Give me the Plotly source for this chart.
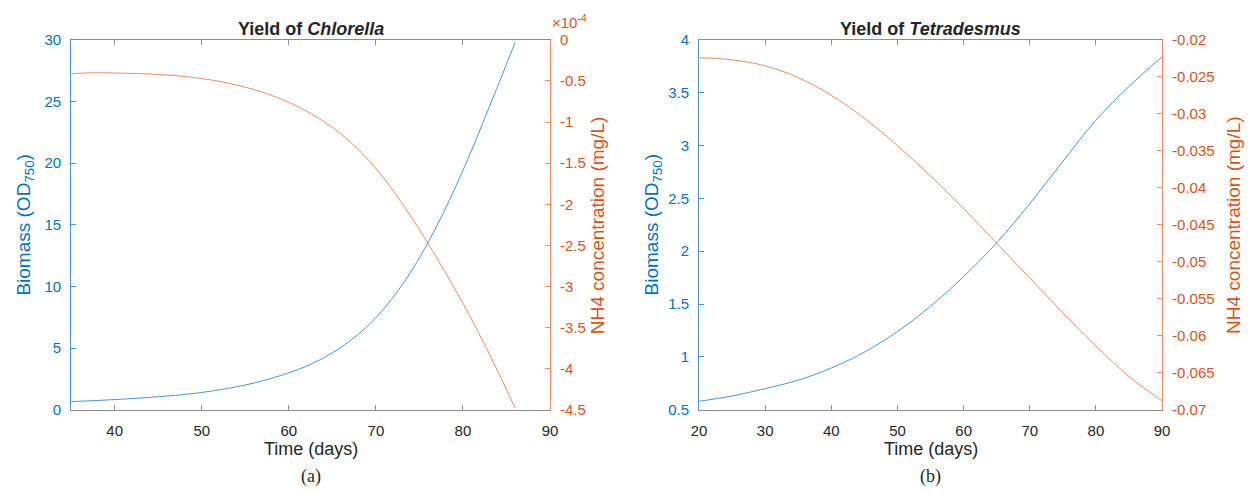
import plotly.graph_objects as go

# ---------------- data ----------------
days_chlorella = [35, 38, 41, 44, 47, 50, 53, 56, 59, 62, 65, 68, 71, 74, 77, 80, 83, 86]
biomass_chlorella = [0.66, 0.75, 0.86, 1.0, 1.17, 1.40, 1.73, 2.16, 2.76, 3.53, 4.61, 6.13, 8.26,
                     11.16, 14.91, 19.41, 24.51, 29.8]
nh4_chlorella_e4 = [-0.41, -0.40, -0.405, -0.415, -0.435, -0.47, -0.525, -0.605, -0.715, -0.865,
                    -1.065, -1.335, -1.695, -2.145, -2.655, -3.205, -3.815, -4.48]   # x 1e-4 mg/L

days_tetradesmus = [20, 25, 30, 35, 40, 45, 50, 55, 60, 65, 70, 75, 80, 85, 90]
biomass_tetradesmus = [0.58, 0.63, 0.70, 0.78, 0.895, 1.045, 1.24, 1.48, 1.76, 2.08, 2.45, 2.85, 3.24, 3.56, 3.84]
nh4_tetradesmus = [-0.0224, -0.0227, -0.0235, -0.0251, -0.0275, -0.0306, -0.0343, -0.0384,
                   -0.0428, -0.0475, -0.0522, -0.0569, -0.0614, -0.0655, -0.0688]

x_ticks_a = [40, 50, 60, 70, 80, 90]
x_ticks_b = [20, 30, 40, 50, 60, 70, 80, 90]
bio_ticks_a = [0, 5, 10, 15, 20, 25, 30]
bio_ticks_b = [0.5, 1, 1.5, 2, 2.5, 3, 3.5, 4]
nh4_ticks_a_e4 = [0, -0.5, -1, -1.5, -2, -2.5, -3, -3.5, -4, -4.5]
nh4_ticks_b = [-0.02, -0.025, -0.03, -0.035, -0.04, -0.045, -0.05, -0.055, -0.06, -0.065, -0.07]
SCALE_A = 1e-4

# ---------------- style ----------------
BLUE = '#0072BD'
ORANGE = '#D95319'
BLUE_LINE = 'rgb(70,150,215)'
ORANGE_LINE = 'rgb(236,140,100)'
GRAY = 'rgb(140,140,140)'
TXT = '#262626'
FONT = 'Liberation Sans, Arial, sans-serif'
SERIF = 'Liberation Serif, Times New Roman, serif'
W, H = 1254, 494


def fmt(v):
    return '%g' % v


nh4_chlorella = [v * SCALE_A for v in nh4_chlorella_e4]

fig = go.Figure()
fig.add_trace(go.Scatter(x=days_chlorella, y=biomass_chlorella, mode='lines',
                         line=dict(color=BLUE_LINE, width=1, shape='spline'), xaxis='x', yaxis='y'))
fig.add_trace(go.Scatter(x=days_chlorella, y=nh4_chlorella, mode='lines',
                         line=dict(color=ORANGE_LINE, width=1, shape='spline'), xaxis='x', yaxis='y2'))
fig.add_trace(go.Scatter(x=days_tetradesmus, y=biomass_tetradesmus, mode='lines',
                         line=dict(color=BLUE_LINE, width=1, shape='spline'), xaxis='x2', yaxis='y3'))
fig.add_trace(go.Scatter(x=days_tetradesmus, y=nh4_tetradesmus, mode='lines',
                         line=dict(color=ORANGE_LINE, width=1, shape='spline'), xaxis='x2', yaxis='y4'))

ydom = [1 - 415 / H, 1 - 32 / H]
dom_a = [64 / W, 549 / W]
dom_b = [700 / W, 1169 / W]

xcommon = dict(showgrid=False, zeroline=False, showline=True, linecolor=GRAY, linewidth=1,
               mirror='ticks', ticks='inside', ticklen=5, tickcolor=GRAY, ticklabelstandoff=7,
               tickfont=dict(size=15, color=TXT, family=FONT))


def ycommon(col, linecol):
    return dict(showgrid=False, zeroline=False, showline=True, linecolor=linecol, linewidth=1,
                ticks='inside', ticklen=5, tickcolor=linecol, ticklabelstandoff=6,
                tickfont=dict(size=15, color=col, family=FONT))


fig.update_layout(
    width=W, height=H, margin=dict(l=0, r=0, t=0, b=0),
    plot_bgcolor='white', paper_bgcolor='white', showlegend=False,
    font=dict(family=FONT),
    xaxis=dict(domain=dom_a, range=[35, 90], tickvals=x_ticks_a, ticktext=[fmt(v) for v in x_ticks_a],
               anchor='y', **xcommon),
    yaxis=dict(domain=ydom, range=[0, 30], tickvals=bio_ticks_a, ticktext=[fmt(v) for v in bio_ticks_a],
               anchor='x', **ycommon(BLUE, BLUE_LINE)),
    yaxis2=dict(range=[-4.5 * SCALE_A, 0], overlaying='y', side='right', anchor='x',
                tickvals=[v * SCALE_A for v in nh4_ticks_a_e4], ticktext=[fmt(v) for v in nh4_ticks_a_e4],
                **ycommon(ORANGE, ORANGE_LINE)),
    xaxis2=dict(domain=dom_b, range=[20, 90], tickvals=x_ticks_b, ticktext=[fmt(v) for v in x_ticks_b],
                anchor='y3', **xcommon),
    yaxis3=dict(domain=ydom, range=[0.5, 4], tickvals=bio_ticks_b, ticktext=[fmt(v) for v in bio_ticks_b],
                anchor='x2', **ycommon(BLUE, BLUE_LINE)),
    yaxis4=dict(range=[-0.07, -0.02], overlaying='y3', side='right', anchor='x2',
                tickvals=nh4_ticks_b, ticktext=[fmt(v) for v in nh4_ticks_b],
                **ycommon(ORANGE, ORANGE_LINE)),
)


def ann(text, x, y, size, color=TXT, angle=0, family=FONT, xanchor='center'):
    fig.add_annotation(text=text, x=x / W, y=1 - y / H, xref='paper', yref='paper',
                       showarrow=False, textangle=angle, xanchor=xanchor, yanchor='middle',
                       font=dict(size=size, color=color, family=family))


mid_a = (64 + 549) / 2
mid_b = (700 + 1169) / 2
ymid = (32 + 415) / 2

ann('<b>Yield of <i>Chlorella</i></b>', mid_a, 21, 18)
ann('<b>Yield of <i>Tetradesmus</i></b>', mid_b, 21, 18)
ann('Time (days)', mid_a, 456, 18)
ann('Time (days)', mid_b, 456, 18)
ann('(a)', mid_a, 484, 18, family=SERIF)
ann('(b)', mid_b, 484, 18, family=SERIF)
ann('Biomass (OD<sub>750</sub>)', 17, ymid, 19, color=BLUE, angle=-90)
ann('Biomass (OD<sub>750</sub>)', 653, ymid, 19, color=BLUE, angle=-90)
ann('NH4 concentration (mg/L)', 597, ymid, 19, color=ORANGE, angle=-90)
ann('NH4 concentration (mg/L)', 1242, ymid, 19, color=ORANGE, angle=-90)
ann('×10<sup>-4</sup>', 549, 13, 15, color=ORANGE, xanchor='left')

fig.write_html('out.html')
